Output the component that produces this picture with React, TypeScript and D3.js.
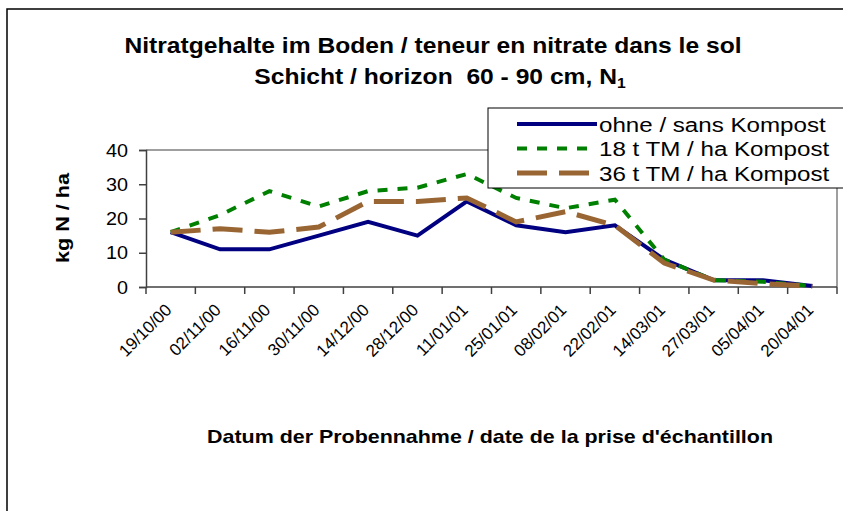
import { useEffect, useRef } from 'react';
import * as d3 from 'd3';

// sampling dates
const categories = [
  '19/10/00', '02/11/00', '16/11/00', '30/11/00', '14/12/00', '28/12/00', '11/01/01',
  '25/01/01', '08/02/01', '22/02/01', '14/03/01', '27/03/01', '05/04/01', '20/04/01'
];

// kg N / ha
const ohneKompost = [16, 11, 11, 15, 19, 15, 25, 18, 16, 18, 8, 2, 2, 0.3];
const kompost18 = [16, 21, 28, 23.5, 28, 29, 33, 26, 23, 25.5, 8, 2, 1.5, 0.3];
const kompost36 = [16, 17, 16, 17.5, 25, 25, 26, 19, 22, 18, 7, 2, 1, 0.2];

const seriesNames = ['ohne / sans Kompost', '18 t TM / ha Kompost', '36 t TM / ha Kompost'];
const yTicks = [0, 10, 20, 30, 40];

const FONT = "Arial, 'Liberation Sans', sans-serif";

const App = () => {
  const ref = useRef<HTMLDivElement>(null);

  useEffect(() => {
    if (!ref.current) return;
    const width = 843, height = 511;
    const plot = { left: 146, right: 837, top: 150, bottom: 287 };

    d3.select(ref.current).selectAll('svg').remove();
    const svg = d3.select(ref.current)
      .append('svg')
      .attr('width', width)
      .attr('height', height)
      .style('position', 'absolute')
      .style('left', 0)
      .style('top', 0)
      .style('font-family', FONT);

    // text is a bit wider than plain Arial in the original, so stretch it horizontally
    const label = (g: any, px: number, py: number, size: number, sx: number, txt: string, anchor = 'start', bold = false) =>
      g.append('text')
        .attr('transform', `translate(${px},${py}) scale(${sx},1)`)
        .attr('text-anchor', anchor)
        .attr('font-size', size)
        .attr('font-weight', bold ? 'bold' : 'normal')
        .text(txt);

    svg.append('rect').attr('width', width).attr('height', height).attr('fill', '#fff');
    // chart frame
    svg.append('rect')
      .attr('x', 7).attr('y', 9)
      .attr('width', 860).attr('height', 520)
      .attr('fill', 'none').attr('stroke', '#000').attr('stroke-width', 1.5);

    // title
    label(svg, 433, 53, 22, 1.12, 'Nitratgehalte im Boden / teneur en nitrate dans le sol', 'middle', true);
    const t2 = svg.append('text')
      .attr('transform', 'translate(440,84) scale(1.12,1)')
      .attr('text-anchor', 'middle')
      .attr('font-weight', 'bold')
      .attr('font-size', 22)
      .style('white-space', 'pre');
    t2.append('tspan').text('Schicht / horizon  60 - 90 cm, N');
    t2.append('tspan').attr('font-size', 14).attr('dy', 4).text('1');

    const x = d3.scaleBand<string>().domain(categories).range([plot.left, plot.right]);
    const y = d3.scaleLinear().domain([0, 40]).range([plot.bottom, plot.top]);
    const cx = (c: string) => (x(c) as number) + x.bandwidth() / 2;

    // plot area border (top / right)
    svg.append('path')
      .attr('d', `M${plot.left},${plot.top}H${plot.right}V${plot.bottom}`)
      .attr('fill', 'none').attr('stroke', '#808080').attr('stroke-width', 1.5);

    // y axis
    const yAxis = svg.append('g')
      .attr('transform', `translate(${plot.left},0)`)
      .call(d3.axisLeft(y).tickValues(yTicks).tickSize(7).tickFormat(() => ''));
    yAxis.select('.domain').attr('stroke', '#404040').attr('stroke-width', 1.5);
    yAxis.selectAll('.tick line').attr('stroke', '#404040').attr('stroke-width', 1.5);
    yTicks.forEach(t => label(svg, 128, y(t) + 6.5, 18, 1.1, String(t), 'end'));

    // x axis: ticks on category boundaries
    const xg = svg.append('g');
    xg.append('line')
      .attr('x1', plot.left).attr('x2', plot.right)
      .attr('y1', plot.bottom).attr('y2', plot.bottom)
      .attr('stroke', '#404040').attr('stroke-width', 1.5);
    const bounds = categories.map(c => x(c) as number).concat([plot.right]);
    xg.selectAll('line.tick')
      .data(bounds)
      .join('line')
      .attr('class', 'tick')
      .attr('x1', d => d).attr('x2', d => d)
      .attr('y1', plot.bottom).attr('y2', plot.bottom + 7)
      .attr('stroke', '#404040').attr('stroke-width', 1.5);
    xg.selectAll('text')
      .data(categories)
      .join('text')
      .attr('text-anchor', 'end')
      .attr('font-size', 17)
      .attr('transform', d => `translate(${cx(d) + 2},${plot.bottom + 24}) rotate(-45)`)
      .text(d => d);

    // axis titles
    svg.append('text')
      .attr('text-anchor', 'middle')
      .attr('font-weight', 'bold')
      .attr('font-size', 18)
      .attr('transform', `translate(69,218) rotate(-90) scale(1.2,1)`)
      .text('kg N / ha');
    label(svg, 490, 443, 19, 1.128, "Datum der Probennahme / date de la prise d'échantillon", 'middle', true);

    const styles = [
      { color: '#000080', dash: null, w: 4 },
      { color: '#008000', dash: '10,10', w: 4 },
      { color: '#996633', dash: '30,12', w: 5 }
    ];
    const allSeries = [ohneKompost, kompost18, kompost36];

    const line = d3.line<number>()
      .x((_, i) => cx(categories[i]))
      .y(d => y(d));

    allSeries.forEach((s, i) => {
      svg.append('path')
        .datum(s)
        .attr('fill', 'none')
        .attr('stroke', styles[i].color)
        .attr('stroke-width', styles[i].w)
        .attr('stroke-dasharray', styles[i].dash)
        .attr('d', line);
    });

    // legend
    const lg = svg.append('g');
    lg.append('rect')
      .attr('x', 488).attr('y', 108).attr('width', 360).attr('height', 80)
      .attr('fill', '#fff').attr('stroke', '#000').attr('stroke-width', 1);
    seriesNames.forEach((name, i) => {
      const yy = 124 + i * 24.5;
      lg.append('line')
        .attr('x1', 517).attr('x2', 597).attr('y1', yy).attr('y2', yy)
        .attr('stroke', styles[i].color)
        .attr('stroke-width', styles[i].w)
        .attr('stroke-dasharray', styles[i].dash);
      label(lg, 599, yy + 7.5, 21, 1.15, name);
    });
  }, []);

  return <div ref={ref} />;
};

export default App;
